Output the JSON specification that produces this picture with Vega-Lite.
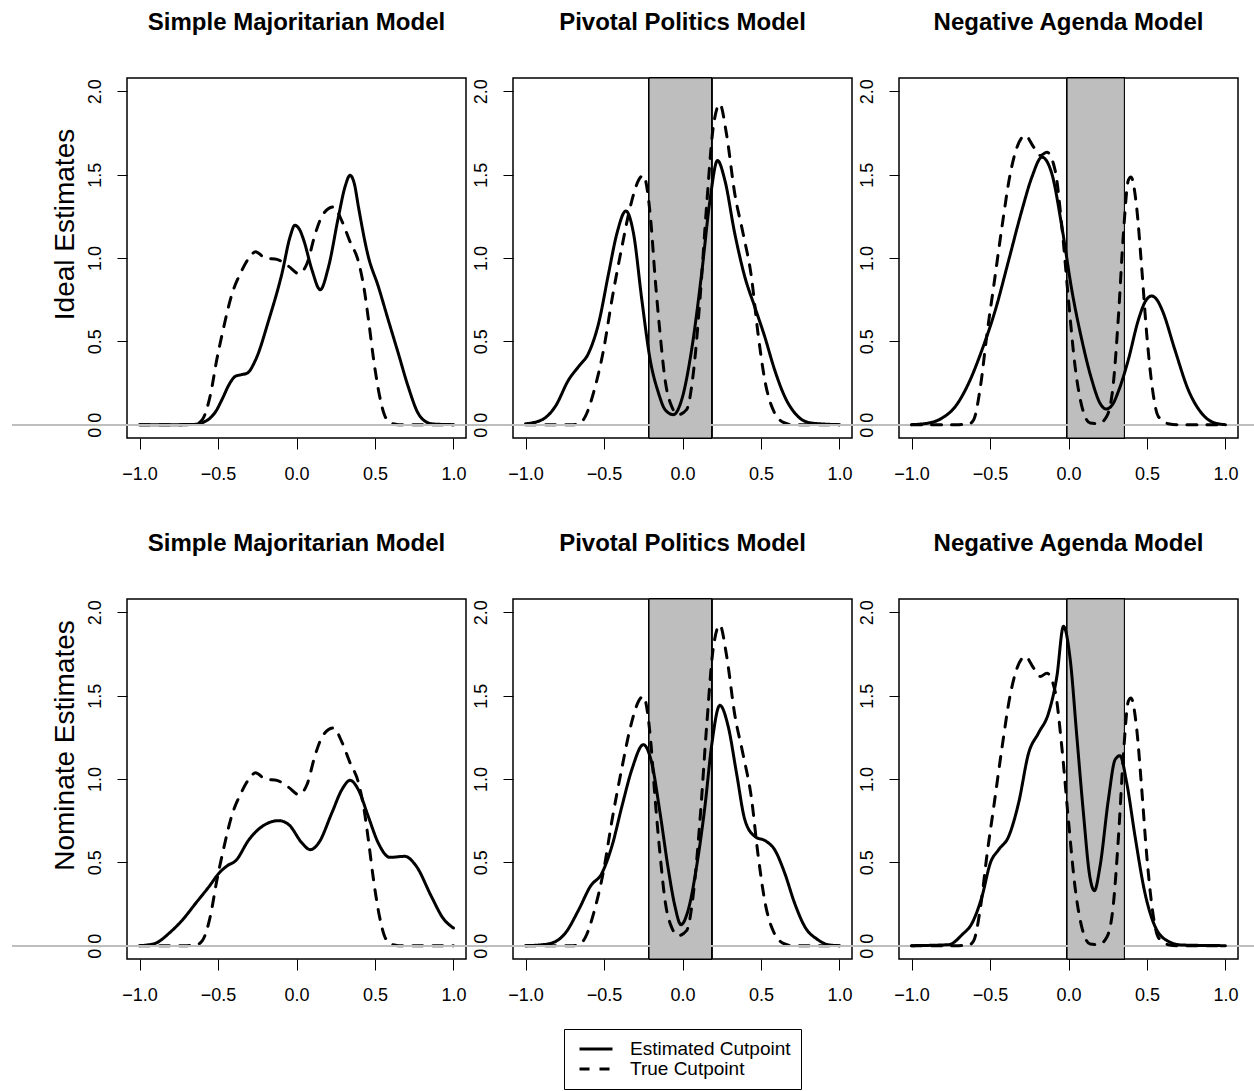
{
  "$schema": "https://vega.github.io/schema/vega-lite/v6.json",
  "padding": {"left": 10, "top": 9, "right": 0, "bottom": 0},
  "background": "white",
  "datasets": {
    "d": [
      {"c":"S","r":"I","s":"Estimated Cutpoint","x":-1,"y":0},{"c":"S","r":"I","s":"Estimated Cutpoint","x":-0.8,"y":0},{"c":"S","r":"I","s":"Estimated Cutpoint","x":-0.66,"y":0.001},{"c":"S","r":"I","s":"Estimated Cutpoint","x":-0.6,"y":0.012},{"c":"S","r":"I","s":"Estimated Cutpoint","x":-0.55,"y":0.04},{"c":"S","r":"I","s":"Estimated Cutpoint","x":-0.514,"y":0.08},{"c":"S","r":"I","s":"Estimated Cutpoint","x":-0.47,"y":0.16},{"c":"S","r":"I","s":"Estimated Cutpoint","x":-0.43,"y":0.24},{"c":"S","r":"I","s":"Estimated Cutpoint","x":-0.39,"y":0.29},{"c":"S","r":"I","s":"Estimated Cutpoint","x":-0.35,"y":0.3},{"c":"S","r":"I","s":"Estimated Cutpoint","x":-0.313,"y":0.31},{"c":"S","r":"I","s":"Estimated Cutpoint","x":-0.26,"y":0.39},{"c":"S","r":"I","s":"Estimated Cutpoint","x":-0.176,"y":0.63},{"c":"S","r":"I","s":"Estimated Cutpoint","x":-0.092,"y":0.91},{"c":"S","r":"I","s":"Estimated Cutpoint","x":-0.04,"y":1.13},{"c":"S","r":"I","s":"Estimated Cutpoint","x":-0.011,"y":1.196},{"c":"S","r":"I","s":"Estimated Cutpoint","x":0.02,"y":1.17},{"c":"S","r":"I","s":"Estimated Cutpoint","x":0.046,"y":1.107},{"c":"S","r":"I","s":"Estimated Cutpoint","x":0.098,"y":0.93},{"c":"S","r":"I","s":"Estimated Cutpoint","x":0.151,"y":0.81},{"c":"S","r":"I","s":"Estimated Cutpoint","x":0.204,"y":0.947},{"c":"S","r":"I","s":"Estimated Cutpoint","x":0.267,"y":1.246},{"c":"S","r":"I","s":"Estimated Cutpoint","x":0.31,"y":1.43},{"c":"S","r":"I","s":"Estimated Cutpoint","x":0.341,"y":1.496},{"c":"S","r":"I","s":"Estimated Cutpoint","x":0.37,"y":1.44},{"c":"S","r":"I","s":"Estimated Cutpoint","x":0.394,"y":1.31},{"c":"S","r":"I","s":"Estimated Cutpoint","x":0.457,"y":1.01},{"c":"S","r":"I","s":"Estimated Cutpoint","x":0.521,"y":0.83},{"c":"S","r":"I","s":"Estimated Cutpoint","x":0.584,"y":0.63},{"c":"S","r":"I","s":"Estimated Cutpoint","x":0.648,"y":0.43},{"c":"S","r":"I","s":"Estimated Cutpoint","x":0.711,"y":0.23},{"c":"S","r":"I","s":"Estimated Cutpoint","x":0.774,"y":0.07},{"c":"S","r":"I","s":"Estimated Cutpoint","x":0.82,"y":0.02},{"c":"S","r":"I","s":"Estimated Cutpoint","x":0.87,"y":0.004},{"c":"S","r":"I","s":"Estimated Cutpoint","x":1,"y":0},

      {"c":"S","r":"T","s":"True Cutpoint","x":-1,"y":0},{"c":"S","r":"T","s":"True Cutpoint","x":-0.7,"y":0},{"c":"S","r":"T","s":"True Cutpoint","x":-0.64,"y":0.004},{"c":"S","r":"T","s":"True Cutpoint","x":-0.6,"y":0.03},{"c":"S","r":"T","s":"True Cutpoint","x":-0.546,"y":0.19},{"c":"S","r":"T","s":"True Cutpoint","x":-0.51,"y":0.38},{"c":"S","r":"T","s":"True Cutpoint","x":-0.472,"y":0.55},{"c":"S","r":"T","s":"True Cutpoint","x":-0.409,"y":0.79},{"c":"S","r":"T","s":"True Cutpoint","x":-0.356,"y":0.91},{"c":"S","r":"T","s":"True Cutpoint","x":-0.303,"y":1.0},{"c":"S","r":"T","s":"True Cutpoint","x":-0.261,"y":1.037},{"c":"S","r":"T","s":"True Cutpoint","x":-0.2,"y":1.0},{"c":"S","r":"T","s":"True Cutpoint","x":-0.12,"y":0.99},{"c":"S","r":"T","s":"True Cutpoint","x":-0.05,"y":0.95},{"c":"S","r":"T","s":"True Cutpoint","x":0.014,"y":0.907},{"c":"S","r":"T","s":"True Cutpoint","x":0.067,"y":0.967},{"c":"S","r":"T","s":"True Cutpoint","x":0.12,"y":1.147},{"c":"S","r":"T","s":"True Cutpoint","x":0.172,"y":1.266},{"c":"S","r":"T","s":"True Cutpoint","x":0.236,"y":1.306},{"c":"S","r":"T","s":"True Cutpoint","x":0.29,"y":1.22},{"c":"S","r":"T","s":"True Cutpoint","x":0.34,"y":1.1},{"c":"S","r":"T","s":"True Cutpoint","x":0.394,"y":0.98},{"c":"S","r":"T","s":"True Cutpoint","x":0.43,"y":0.82},{"c":"S","r":"T","s":"True Cutpoint","x":0.46,"y":0.62},{"c":"S","r":"T","s":"True Cutpoint","x":0.49,"y":0.4},{"c":"S","r":"T","s":"True Cutpoint","x":0.53,"y":0.17},{"c":"S","r":"T","s":"True Cutpoint","x":0.56,"y":0.06},{"c":"S","r":"T","s":"True Cutpoint","x":0.6,"y":0.01},{"c":"S","r":"T","s":"True Cutpoint","x":0.65,"y":0},{"c":"S","r":"T","s":"True Cutpoint","x":1,"y":0},

      {"c":"S","r":"N","s":"Estimated Cutpoint","x":-1,"y":0},{"c":"S","r":"N","s":"Estimated Cutpoint","x":-0.95,"y":0.004},{"c":"S","r":"N","s":"Estimated Cutpoint","x":-0.894,"y":0.016},{"c":"S","r":"N","s":"Estimated Cutpoint","x":-0.81,"y":0.076},{"c":"S","r":"N","s":"Estimated Cutpoint","x":-0.725,"y":0.156},{"c":"S","r":"N","s":"Estimated Cutpoint","x":-0.641,"y":0.256},{"c":"S","r":"N","s":"Estimated Cutpoint","x":-0.556,"y":0.356},{"c":"S","r":"N","s":"Estimated Cutpoint","x":-0.493,"y":0.436},{"c":"S","r":"N","s":"Estimated Cutpoint","x":-0.44,"y":0.48},{"c":"S","r":"N","s":"Estimated Cutpoint","x":-0.387,"y":0.51},{"c":"S","r":"N","s":"Estimated Cutpoint","x":-0.303,"y":0.636},{"c":"S","r":"N","s":"Estimated Cutpoint","x":-0.218,"y":0.716},{"c":"S","r":"N","s":"Estimated Cutpoint","x":-0.113,"y":0.75},{"c":"S","r":"N","s":"Estimated Cutpoint","x":-0.049,"y":0.726},{"c":"S","r":"N","s":"Estimated Cutpoint","x":0.035,"y":0.616},{"c":"S","r":"N","s":"Estimated Cutpoint","x":0.088,"y":0.576},{"c":"S","r":"N","s":"Estimated Cutpoint","x":0.141,"y":0.616},{"c":"S","r":"N","s":"Estimated Cutpoint","x":0.225,"y":0.796},{"c":"S","r":"N","s":"Estimated Cutpoint","x":0.289,"y":0.936},{"c":"S","r":"N","s":"Estimated Cutpoint","x":0.341,"y":0.992},{"c":"S","r":"N","s":"Estimated Cutpoint","x":0.394,"y":0.936},{"c":"S","r":"N","s":"Estimated Cutpoint","x":0.457,"y":0.776},{"c":"S","r":"N","s":"Estimated Cutpoint","x":0.521,"y":0.616},{"c":"S","r":"N","s":"Estimated Cutpoint","x":0.595,"y":0.53},{"c":"S","r":"N","s":"Estimated Cutpoint","x":0.69,"y":0.536},{"c":"S","r":"N","s":"Estimated Cutpoint","x":0.764,"y":0.476},{"c":"S","r":"N","s":"Estimated Cutpoint","x":0.859,"y":0.296},{"c":"S","r":"N","s":"Estimated Cutpoint","x":0.933,"y":0.166},{"c":"S","r":"N","s":"Estimated Cutpoint","x":1,"y":0.106},

      {"c":"P","r":"I","s":"Estimated Cutpoint","x":-1,"y":0.005},{"c":"P","r":"I","s":"Estimated Cutpoint","x":-0.894,"y":0.03},{"c":"P","r":"I","s":"Estimated Cutpoint","x":-0.81,"y":0.11},{"c":"P","r":"I","s":"Estimated Cutpoint","x":-0.725,"y":0.27},{"c":"P","r":"I","s":"Estimated Cutpoint","x":-0.661,"y":0.35},{"c":"P","r":"I","s":"Estimated Cutpoint","x":-0.598,"y":0.43},{"c":"P","r":"I","s":"Estimated Cutpoint","x":-0.534,"y":0.61},{"c":"P","r":"I","s":"Estimated Cutpoint","x":-0.471,"y":0.907},{"c":"P","r":"I","s":"Estimated Cutpoint","x":-0.418,"y":1.147},{"c":"P","r":"I","s":"Estimated Cutpoint","x":-0.361,"y":1.282},{"c":"P","r":"I","s":"Estimated Cutpoint","x":-0.312,"y":1.147},{"c":"P","r":"I","s":"Estimated Cutpoint","x":-0.259,"y":0.748},{"c":"P","r":"I","s":"Estimated Cutpoint","x":-0.206,"y":0.389},{"c":"P","r":"I","s":"Estimated Cutpoint","x":-0.153,"y":0.19},{"c":"P","r":"I","s":"Estimated Cutpoint","x":-0.111,"y":0.09},{"c":"P","r":"I","s":"Estimated Cutpoint","x":-0.058,"y":0.06},{"c":"P","r":"I","s":"Estimated Cutpoint","x":-0.005,"y":0.15},{"c":"P","r":"I","s":"Estimated Cutpoint","x":0.058,"y":0.449},{"c":"P","r":"I","s":"Estimated Cutpoint","x":0.122,"y":0.907},{"c":"P","r":"I","s":"Estimated Cutpoint","x":0.175,"y":1.346},{"c":"P","r":"I","s":"Estimated Cutpoint","x":0.223,"y":1.585},{"c":"P","r":"I","s":"Estimated Cutpoint","x":0.27,"y":1.466},{"c":"P","r":"I","s":"Estimated Cutpoint","x":0.333,"y":1.147},{"c":"P","r":"I","s":"Estimated Cutpoint","x":0.397,"y":0.887},{"c":"P","r":"I","s":"Estimated Cutpoint","x":0.46,"y":0.708},{"c":"P","r":"I","s":"Estimated Cutpoint","x":0.524,"y":0.528},{"c":"P","r":"I","s":"Estimated Cutpoint","x":0.587,"y":0.329},{"c":"P","r":"I","s":"Estimated Cutpoint","x":0.651,"y":0.169},{"c":"P","r":"I","s":"Estimated Cutpoint","x":0.735,"y":0.05},{"c":"P","r":"I","s":"Estimated Cutpoint","x":0.82,"y":0.01},{"c":"P","r":"I","s":"Estimated Cutpoint","x":1,"y":0},

      {"c":"P","r":"T","s":"True Cutpoint","x":-1,"y":0},{"c":"P","r":"T","s":"True Cutpoint","x":-0.7,"y":0},{"c":"P","r":"T","s":"True Cutpoint","x":-0.66,"y":0.005},{"c":"P","r":"T","s":"True Cutpoint","x":-0.619,"y":0.05},{"c":"P","r":"T","s":"True Cutpoint","x":-0.556,"y":0.23},{"c":"P","r":"T","s":"True Cutpoint","x":-0.503,"y":0.449},{"c":"P","r":"T","s":"True Cutpoint","x":-0.45,"y":0.748},{"c":"P","r":"T","s":"True Cutpoint","x":-0.386,"y":1.067},{"c":"P","r":"T","s":"True Cutpoint","x":-0.333,"y":1.306},{"c":"P","r":"T","s":"True Cutpoint","x":-0.28,"y":1.466},{"c":"P","r":"T","s":"True Cutpoint","x":-0.249,"y":1.496},{"c":"P","r":"T","s":"True Cutpoint","x":-0.22,"y":1.38},{"c":"P","r":"T","s":"True Cutpoint","x":-0.2,"y":1.2},{"c":"P","r":"T","s":"True Cutpoint","x":-0.175,"y":0.887},{"c":"P","r":"T","s":"True Cutpoint","x":-0.143,"y":0.548},{"c":"P","r":"T","s":"True Cutpoint","x":-0.111,"y":0.269},{"c":"P","r":"T","s":"True Cutpoint","x":-0.069,"y":0.11},{"c":"P","r":"T","s":"True Cutpoint","x":-0.026,"y":0.06},{"c":"P","r":"T","s":"True Cutpoint","x":0.026,"y":0.09},{"c":"P","r":"T","s":"True Cutpoint","x":0.069,"y":0.309},{"c":"P","r":"T","s":"True Cutpoint","x":0.111,"y":0.748},{"c":"P","r":"T","s":"True Cutpoint","x":0.153,"y":1.306},{"c":"P","r":"T","s":"True Cutpoint","x":0.196,"y":1.785},{"c":"P","r":"T","s":"True Cutpoint","x":0.238,"y":1.924},{"c":"P","r":"T","s":"True Cutpoint","x":0.28,"y":1.745},{"c":"P","r":"T","s":"True Cutpoint","x":0.333,"y":1.386},{"c":"P","r":"T","s":"True Cutpoint","x":0.386,"y":1.147},{"c":"P","r":"T","s":"True Cutpoint","x":0.439,"y":0.887},{"c":"P","r":"T","s":"True Cutpoint","x":0.481,"y":0.548},{"c":"P","r":"T","s":"True Cutpoint","x":0.524,"y":0.269},{"c":"P","r":"T","s":"True Cutpoint","x":0.587,"y":0.07},{"c":"P","r":"T","s":"True Cutpoint","x":0.651,"y":0.01},{"c":"P","r":"T","s":"True Cutpoint","x":0.7,"y":0},{"c":"P","r":"T","s":"True Cutpoint","x":1,"y":0},

      {"c":"P","r":"N","s":"Estimated Cutpoint","x":-1,"y":0},{"c":"P","r":"N","s":"Estimated Cutpoint","x":-0.9,"y":0.005},{"c":"P","r":"N","s":"Estimated Cutpoint","x":-0.831,"y":0.016},{"c":"P","r":"N","s":"Estimated Cutpoint","x":-0.746,"y":0.076},{"c":"P","r":"N","s":"Estimated Cutpoint","x":-0.661,"y":0.216},{"c":"P","r":"N","s":"Estimated Cutpoint","x":-0.587,"y":0.356},{"c":"P","r":"N","s":"Estimated Cutpoint","x":-0.513,"y":0.436},{"c":"P","r":"N","s":"Estimated Cutpoint","x":-0.45,"y":0.596},{"c":"P","r":"N","s":"Estimated Cutpoint","x":-0.386,"y":0.836},{"c":"P","r":"N","s":"Estimated Cutpoint","x":-0.323,"y":1.056},{"c":"P","r":"N","s":"Estimated Cutpoint","x":-0.249,"y":1.206},{"c":"P","r":"N","s":"Estimated Cutpoint","x":-0.196,"y":1.096},{"c":"P","r":"N","s":"Estimated Cutpoint","x":-0.143,"y":0.796},{"c":"P","r":"N","s":"Estimated Cutpoint","x":-0.09,"y":0.456},{"c":"P","r":"N","s":"Estimated Cutpoint","x":-0.048,"y":0.236},{"c":"P","r":"N","s":"Estimated Cutpoint","x":-0.01,"y":0.126},{"c":"P","r":"N","s":"Estimated Cutpoint","x":0.037,"y":0.216},{"c":"P","r":"N","s":"Estimated Cutpoint","x":0.09,"y":0.476},{"c":"P","r":"N","s":"Estimated Cutpoint","x":0.143,"y":0.836},{"c":"P","r":"N","s":"Estimated Cutpoint","x":0.185,"y":1.196},{"c":"P","r":"N","s":"Estimated Cutpoint","x":0.238,"y":1.442},{"c":"P","r":"N","s":"Estimated Cutpoint","x":0.291,"y":1.316},{"c":"P","r":"N","s":"Estimated Cutpoint","x":0.344,"y":1.036},{"c":"P","r":"N","s":"Estimated Cutpoint","x":0.397,"y":0.756},{"c":"P","r":"N","s":"Estimated Cutpoint","x":0.46,"y":0.656},{"c":"P","r":"N","s":"Estimated Cutpoint","x":0.534,"y":0.626},{"c":"P","r":"N","s":"Estimated Cutpoint","x":0.587,"y":0.576},{"c":"P","r":"N","s":"Estimated Cutpoint","x":0.651,"y":0.436},{"c":"P","r":"N","s":"Estimated Cutpoint","x":0.714,"y":0.256},{"c":"P","r":"N","s":"Estimated Cutpoint","x":0.778,"y":0.116},{"c":"P","r":"N","s":"Estimated Cutpoint","x":0.862,"y":0.036},{"c":"P","r":"N","s":"Estimated Cutpoint","x":0.93,"y":0.005},{"c":"P","r":"N","s":"Estimated Cutpoint","x":1,"y":0},

      {"c":"G","r":"I","s":"Estimated Cutpoint","x":-1,"y":0},{"c":"G","r":"I","s":"Estimated Cutpoint","x":-0.89,"y":0.01},{"c":"G","r":"I","s":"Estimated Cutpoint","x":-0.805,"y":0.04},{"c":"G","r":"I","s":"Estimated Cutpoint","x":-0.72,"y":0.11},{"c":"G","r":"I","s":"Estimated Cutpoint","x":-0.636,"y":0.249},{"c":"G","r":"I","s":"Estimated Cutpoint","x":-0.551,"y":0.449},{"c":"G","r":"I","s":"Estimated Cutpoint","x":-0.466,"y":0.688},{"c":"G","r":"I","s":"Estimated Cutpoint","x":-0.381,"y":0.987},{"c":"G","r":"I","s":"Estimated Cutpoint","x":-0.297,"y":1.286},{"c":"G","r":"I","s":"Estimated Cutpoint","x":-0.233,"y":1.486},{"c":"G","r":"I","s":"Estimated Cutpoint","x":-0.169,"y":1.605},{"c":"G","r":"I","s":"Estimated Cutpoint","x":-0.106,"y":1.505},{"c":"G","r":"I","s":"Estimated Cutpoint","x":-0.042,"y":1.186},{"c":"G","r":"I","s":"Estimated Cutpoint","x":0.021,"y":0.808},{"c":"G","r":"I","s":"Estimated Cutpoint","x":0.085,"y":0.508},{"c":"G","r":"I","s":"Estimated Cutpoint","x":0.148,"y":0.27},{"c":"G","r":"I","s":"Estimated Cutpoint","x":0.2,"y":0.13},{"c":"G","r":"I","s":"Estimated Cutpoint","x":0.24,"y":0.094},{"c":"G","r":"I","s":"Estimated Cutpoint","x":0.28,"y":0.12},{"c":"G","r":"I","s":"Estimated Cutpoint","x":0.318,"y":0.2},{"c":"G","r":"I","s":"Estimated Cutpoint","x":0.381,"y":0.389},{"c":"G","r":"I","s":"Estimated Cutpoint","x":0.445,"y":0.628},{"c":"G","r":"I","s":"Estimated Cutpoint","x":0.49,"y":0.74},{"c":"G","r":"I","s":"Estimated Cutpoint","x":0.53,"y":0.772},{"c":"G","r":"I","s":"Estimated Cutpoint","x":0.57,"y":0.74},{"c":"G","r":"I","s":"Estimated Cutpoint","x":0.6,"y":0.68},{"c":"G","r":"I","s":"Estimated Cutpoint","x":0.678,"y":0.449},{"c":"G","r":"I","s":"Estimated Cutpoint","x":0.763,"y":0.209},{"c":"G","r":"I","s":"Estimated Cutpoint","x":0.847,"y":0.07},{"c":"G","r":"I","s":"Estimated Cutpoint","x":0.932,"y":0.01},{"c":"G","r":"I","s":"Estimated Cutpoint","x":1,"y":0},

      {"c":"G","r":"T","s":"True Cutpoint","x":-1,"y":0},{"c":"G","r":"T","s":"True Cutpoint","x":-0.7,"y":0},{"c":"G","r":"T","s":"True Cutpoint","x":-0.636,"y":0.004},{"c":"G","r":"T","s":"True Cutpoint","x":-0.604,"y":0.03},{"c":"G","r":"T","s":"True Cutpoint","x":-0.561,"y":0.229},{"c":"G","r":"T","s":"True Cutpoint","x":-0.519,"y":0.548},{"c":"G","r":"T","s":"True Cutpoint","x":-0.477,"y":0.828},{"c":"G","r":"T","s":"True Cutpoint","x":-0.424,"y":1.186},{"c":"G","r":"T","s":"True Cutpoint","x":-0.371,"y":1.506},{"c":"G","r":"T","s":"True Cutpoint","x":-0.328,"y":1.665},{"c":"G","r":"T","s":"True Cutpoint","x":-0.275,"y":1.735},{"c":"G","r":"T","s":"True Cutpoint","x":-0.222,"y":1.665},{"c":"G","r":"T","s":"True Cutpoint","x":-0.18,"y":1.615},{"c":"G","r":"T","s":"True Cutpoint","x":-0.138,"y":1.635},{"c":"G","r":"T","s":"True Cutpoint","x":-0.085,"y":1.525},{"c":"G","r":"T","s":"True Cutpoint","x":-0.042,"y":1.186},{"c":"G","r":"T","s":"True Cutpoint","x":0,"y":0.748},{"c":"G","r":"T","s":"True Cutpoint","x":0.042,"y":0.349},{"c":"G","r":"T","s":"True Cutpoint","x":0.085,"y":0.11},{"c":"G","r":"T","s":"True Cutpoint","x":0.138,"y":0.01},{"c":"G","r":"T","s":"True Cutpoint","x":0.191,"y":0.006},{"c":"G","r":"T","s":"True Cutpoint","x":0.244,"y":0.05},{"c":"G","r":"T","s":"True Cutpoint","x":0.286,"y":0.249},{"c":"G","r":"T","s":"True Cutpoint","x":0.318,"y":0.648},{"c":"G","r":"T","s":"True Cutpoint","x":0.35,"y":1.147},{"c":"G","r":"T","s":"True Cutpoint","x":0.381,"y":1.466},{"c":"G","r":"T","s":"True Cutpoint","x":0.398,"y":1.486},{"c":"G","r":"T","s":"True Cutpoint","x":0.434,"y":1.306},{"c":"G","r":"T","s":"True Cutpoint","x":0.466,"y":0.947},{"c":"G","r":"T","s":"True Cutpoint","x":0.498,"y":0.548},{"c":"G","r":"T","s":"True Cutpoint","x":0.53,"y":0.249},{"c":"G","r":"T","s":"True Cutpoint","x":0.572,"y":0.05},{"c":"G","r":"T","s":"True Cutpoint","x":0.636,"y":0.006},{"c":"G","r":"T","s":"True Cutpoint","x":0.7,"y":0},{"c":"G","r":"T","s":"True Cutpoint","x":1,"y":0},

      {"c":"G","r":"N","s":"Estimated Cutpoint","x":-1,"y":0},{"c":"G","r":"N","s":"Estimated Cutpoint","x":-0.763,"y":0.006},{"c":"G","r":"N","s":"Estimated Cutpoint","x":-0.678,"y":0.066},{"c":"G","r":"N","s":"Estimated Cutpoint","x":-0.614,"y":0.136},{"c":"G","r":"N","s":"Estimated Cutpoint","x":-0.551,"y":0.296},{"c":"G","r":"N","s":"Estimated Cutpoint","x":-0.498,"y":0.496},{"c":"G","r":"N","s":"Estimated Cutpoint","x":-0.445,"y":0.576},{"c":"G","r":"N","s":"Estimated Cutpoint","x":-0.381,"y":0.656},{"c":"G","r":"N","s":"Estimated Cutpoint","x":-0.318,"y":0.856},{"c":"G","r":"N","s":"Estimated Cutpoint","x":-0.254,"y":1.156},{"c":"G","r":"N","s":"Estimated Cutpoint","x":-0.191,"y":1.276},{"c":"G","r":"N","s":"Estimated Cutpoint","x":-0.127,"y":1.396},{"c":"G","r":"N","s":"Estimated Cutpoint","x":-0.074,"y":1.616},{"c":"G","r":"N","s":"Estimated Cutpoint","x":-0.032,"y":1.916},{"c":"G","r":"N","s":"Estimated Cutpoint","x":0.011,"y":1.716},{"c":"G","r":"N","s":"Estimated Cutpoint","x":0.053,"y":1.256},{"c":"G","r":"N","s":"Estimated Cutpoint","x":0.095,"y":0.796},{"c":"G","r":"N","s":"Estimated Cutpoint","x":0.135,"y":0.42},{"c":"G","r":"N","s":"Estimated Cutpoint","x":0.165,"y":0.33},{"c":"G","r":"N","s":"Estimated Cutpoint","x":0.201,"y":0.476},{"c":"G","r":"N","s":"Estimated Cutpoint","x":0.254,"y":0.876},{"c":"G","r":"N","s":"Estimated Cutpoint","x":0.297,"y":1.116},{"c":"G","r":"N","s":"Estimated Cutpoint","x":0.328,"y":1.14},{"c":"G","r":"N","s":"Estimated Cutpoint","x":0.371,"y":0.976},{"c":"G","r":"N","s":"Estimated Cutpoint","x":0.424,"y":0.656},{"c":"G","r":"N","s":"Estimated Cutpoint","x":0.487,"y":0.316},{"c":"G","r":"N","s":"Estimated Cutpoint","x":0.551,"y":0.116},{"c":"G","r":"N","s":"Estimated Cutpoint","x":0.636,"y":0.026},{"c":"G","r":"N","s":"Estimated Cutpoint","x":0.72,"y":0.004},{"c":"G","r":"N","s":"Estimated Cutpoint","x":1,"y":0}
    ]
  },
  "columns": 3,
  "bounds": "flush",
  "spacing": {"row": 161, "column": 47},
  "resolve": {"scale": {"strokeDash": "shared"}, "legend": {"strokeDash": "shared"}},
  "concat": [
    {
      "width": 339, "height": 360,
      "title": "Simple Majoritarian Model",
      "data": {"name": "d"},
      "transform": [{"filter": "datum.c == 'S' && (datum.r == 'I' || datum.r == 'T')"}],
      "layer": [
        {
          "mark": {"type": "line", "interpolate": "monotone", "strokeWidth": 3, "color": "black", "strokeCap": "round"},
          "encoding": {
            "x": {"field": "x", "type": "quantitative", "scale": {"domain": [-1.08, 1.08], "nice": false, "zero": false}, "axis": {"title": null, "values": [-1, -0.5, 0, 0.5, 1]}},
            "y": {"field": "y", "type": "quantitative", "scale": {"domain": [-0.08, 2.08], "nice": false, "zero": false}, "axis": {"title": "Ideal Estimates", "titleX": -54, "titleY": 146, "values": [0, 0.5, 1, 1.5, 2]}},
            "strokeDash": {"field": "s", "type": "nominal", "scale": {"domain": ["Estimated Cutpoint", "True Cutpoint"], "range": [[1, 0], [10, 10]]}, "legend": {"title": null}},
            "order": {"field": "x", "type": "quantitative"}
          }
        },
        {
          "mark": {"type": "rule", "color": "#bebebe", "strokeWidth": 1.5},
          "encoding": {
            "x": {"datum": -1.81, "type": "quantitative", "scale": {"domain": [-1.08, 1.08]}},
            "x2": {"datum": 1.08},
            "y": {"datum": 0, "type": "quantitative", "scale": {"domain": [-0.08, 2.08]}}
          }
        }
      ]
    },
    {
      "width": 339, "height": 360,
      "title": "Pivotal Politics Model",
      "data": {"name": "d"},
      "transform": [{"filter": "datum.c == 'P' && (datum.r == 'I' || datum.r == 'T')"}],
      "layer": [
        {
          "mark": {"type": "rect", "fill": "#bebebe", "stroke": "black", "strokeWidth": 1},
          "encoding": {
            "x": {"datum": -0.213, "type": "quantitative", "scale": {"domain": [-1.08, 1.08]}},
            "x2": {"datum": 0.185}
          }
        },
        {
          "mark": {"type": "line", "interpolate": "monotone", "strokeWidth": 3, "color": "black", "strokeCap": "round"},
          "encoding": {
            "x": {"field": "x", "type": "quantitative", "scale": {"domain": [-1.08, 1.08], "nice": false, "zero": false}, "axis": {"title": null, "values": [-1, -0.5, 0, 0.5, 1]}},
            "y": {"field": "y", "type": "quantitative", "scale": {"domain": [-0.08, 2.08], "nice": false, "zero": false}, "axis": {"title": null, "values": [0, 0.5, 1, 1.5, 2]}},
            "strokeDash": {"field": "s", "type": "nominal", "scale": {"domain": ["Estimated Cutpoint", "True Cutpoint"], "range": [[1, 0], [10, 10]]}, "legend": {"title": null}},
            "order": {"field": "x", "type": "quantitative"}
          }
        },
        {
          "mark": {"type": "rule", "color": "#bebebe", "strokeWidth": 1.5},
          "encoding": {
            "x": {"datum": -1.38, "type": "quantitative", "scale": {"domain": [-1.08, 1.08]}},
            "x2": {"datum": 1.08},
            "y": {"datum": 0, "type": "quantitative", "scale": {"domain": [-0.08, 2.08]}}
          }
        }
      ]
    },
    {
      "width": 339, "height": 360,
      "title": "Negative Agenda Model",
      "data": {"name": "d"},
      "transform": [{"filter": "datum.c == 'G' && (datum.r == 'I' || datum.r == 'T')"}],
      "layer": [
        {
          "mark": {"type": "rect", "fill": "#bebebe", "stroke": "black", "strokeWidth": 1},
          "encoding": {
            "x": {"datum": -0.009, "type": "quantitative", "scale": {"domain": [-1.08, 1.08]}},
            "x2": {"datum": 0.356}
          }
        },
        {
          "mark": {"type": "rule", "color": "#bebebe", "strokeWidth": 1.5},
          "encoding": {
            "x": {"datum": -1.38, "type": "quantitative", "scale": {"domain": [-1.08, 1.08]}},
            "x2": {"datum": 1.2},
            "y": {"datum": 0, "type": "quantitative", "scale": {"domain": [-0.08, 2.08]}}
          }
        },
        {
          "mark": {"type": "line", "interpolate": "monotone", "strokeWidth": 3, "color": "black", "strokeCap": "round"},
          "encoding": {
            "x": {"field": "x", "type": "quantitative", "scale": {"domain": [-1.08, 1.08], "nice": false, "zero": false}, "axis": {"title": null, "values": [-1, -0.5, 0, 0.5, 1]}},
            "y": {"field": "y", "type": "quantitative", "scale": {"domain": [-0.08, 2.08], "nice": false, "zero": false}, "axis": {"title": null, "values": [0, 0.5, 1, 1.5, 2]}},
            "strokeDash": {"field": "s", "type": "nominal", "scale": {"domain": ["Estimated Cutpoint", "True Cutpoint"], "range": [[1, 0], [10, 10]]}, "legend": {"title": null}},
            "order": {"field": "x", "type": "quantitative"}
          }
        }
      ]
    },
    {
      "width": 339, "height": 360,
      "title": "Simple Majoritarian Model",
      "data": {"name": "d"},
      "transform": [{"filter": "datum.c == 'S' && (datum.r == 'N' || datum.r == 'T')"}],
      "layer": [
        {
          "mark": {"type": "line", "interpolate": "monotone", "strokeWidth": 3, "color": "black", "strokeCap": "round"},
          "encoding": {
            "x": {"field": "x", "type": "quantitative", "scale": {"domain": [-1.08, 1.08], "nice": false, "zero": false}, "axis": {"title": null, "values": [-1, -0.5, 0, 0.5, 1]}},
            "y": {"field": "y", "type": "quantitative", "scale": {"domain": [-0.08, 2.08], "nice": false, "zero": false}, "axis": {"title": "Nominate Estimates", "titleX": -54, "titleY": 146, "values": [0, 0.5, 1, 1.5, 2]}},
            "strokeDash": {"field": "s", "type": "nominal", "scale": {"domain": ["Estimated Cutpoint", "True Cutpoint"], "range": [[1, 0], [10, 10]]}, "legend": {"title": null}},
            "order": {"field": "x", "type": "quantitative"}
          }
        },
        {
          "mark": {"type": "rule", "color": "#bebebe", "strokeWidth": 1.5},
          "encoding": {
            "x": {"datum": -1.81, "type": "quantitative", "scale": {"domain": [-1.08, 1.08]}},
            "x2": {"datum": 1.08},
            "y": {"datum": 0, "type": "quantitative", "scale": {"domain": [-0.08, 2.08]}}
          }
        }
      ]
    },
    {
      "width": 339, "height": 360,
      "title": "Pivotal Politics Model",
      "data": {"name": "d"},
      "transform": [{"filter": "datum.c == 'P' && (datum.r == 'N' || datum.r == 'T')"}],
      "layer": [
        {
          "mark": {"type": "rect", "fill": "#bebebe", "stroke": "black", "strokeWidth": 1},
          "encoding": {
            "x": {"datum": -0.213, "type": "quantitative", "scale": {"domain": [-1.08, 1.08]}},
            "x2": {"datum": 0.185}
          }
        },
        {
          "mark": {"type": "line", "interpolate": "monotone", "strokeWidth": 3, "color": "black", "strokeCap": "round"},
          "encoding": {
            "x": {"field": "x", "type": "quantitative", "scale": {"domain": [-1.08, 1.08], "nice": false, "zero": false}, "axis": {"title": null, "values": [-1, -0.5, 0, 0.5, 1]}},
            "y": {"field": "y", "type": "quantitative", "scale": {"domain": [-0.08, 2.08], "nice": false, "zero": false}, "axis": {"title": null, "values": [0, 0.5, 1, 1.5, 2]}},
            "strokeDash": {"field": "s", "type": "nominal", "scale": {"domain": ["Estimated Cutpoint", "True Cutpoint"], "range": [[1, 0], [10, 10]]}, "legend": {"title": null}},
            "order": {"field": "x", "type": "quantitative"}
          }
        },
        {
          "mark": {"type": "rule", "color": "#bebebe", "strokeWidth": 1.5},
          "encoding": {
            "x": {"datum": -1.38, "type": "quantitative", "scale": {"domain": [-1.08, 1.08]}},
            "x2": {"datum": 1.08},
            "y": {"datum": 0, "type": "quantitative", "scale": {"domain": [-0.08, 2.08]}}
          }
        }
      ]
    },
    {
      "width": 339, "height": 360,
      "title": "Negative Agenda Model",
      "data": {"name": "d"},
      "transform": [{"filter": "datum.c == 'G' && (datum.r == 'N' || datum.r == 'T')"}],
      "layer": [
        {
          "mark": {"type": "rect", "fill": "#bebebe", "stroke": "black", "strokeWidth": 1},
          "encoding": {
            "x": {"datum": -0.009, "type": "quantitative", "scale": {"domain": [-1.08, 1.08]}},
            "x2": {"datum": 0.356}
          }
        },
        {
          "mark": {"type": "rule", "color": "#bebebe", "strokeWidth": 1.5},
          "encoding": {
            "x": {"datum": -1.38, "type": "quantitative", "scale": {"domain": [-1.08, 1.08]}},
            "x2": {"datum": 1.2},
            "y": {"datum": 0, "type": "quantitative", "scale": {"domain": [-0.08, 2.08]}}
          }
        },
        {
          "mark": {"type": "line", "interpolate": "monotone", "strokeWidth": 3, "color": "black", "strokeCap": "round"},
          "encoding": {
            "x": {"field": "x", "type": "quantitative", "scale": {"domain": [-1.08, 1.08], "nice": false, "zero": false}, "axis": {"title": null, "values": [-1, -0.5, 0, 0.5, 1]}},
            "y": {"field": "y", "type": "quantitative", "scale": {"domain": [-0.08, 2.08], "nice": false, "zero": false}, "axis": {"title": null, "values": [0, 0.5, 1, 1.5, 2]}},
            "strokeDash": {"field": "s", "type": "nominal", "scale": {"domain": ["Estimated Cutpoint", "True Cutpoint"], "range": [[1, 0], [10, 10]]}, "legend": {"title": null}},
            "order": {"field": "x", "type": "quantitative"}
          }
        }
      ]
    }
  ],
  "config": {
    "font": "Liberation Sans",
    "view": {"stroke": "black", "strokeWidth": 1.5, "fill": null},
    "title": {"fontSize": 24, "fontWeight": "bold", "color": "black", "anchor": "middle", "offset": 43, "baseline": "alphabetic", "frame": "group"},
    "axis": {"grid": false, "domain": false, "tickColor": "black", "tickWidth": 1, "labelColor": "black", "labelFontSize": 18, "labelFont": "Liberation Sans", "labelOverlap": false, "labelFlush": false, "titleColor": "black", "titleFont": "Liberation Sans", "titleFontWeight": "normal", "format": ".1f"},
    "axisX": {"tickSize": 11, "labelPadding": 16},
    "axisY": {"tickSize": 10, "labelAngle": -90, "labelAlign": "center", "labelBaseline": "alphabetic", "labelPadding": 17, "titleFontSize": 28, "titleAngle": -90, "titleAlign": "center", "titleBaseline": "alphabetic"},
    "legend": {"orient": "none", "legendX": 437, "legendY": 951, "direction": "vertical", "strokeColor": "black", "padding": 10, "cornerRadius": 0, "fillColor": "white", "symbolType": "M-2,0H2", "symbolSize": 272, "symbolOffset": 12, "symbolStrokeWidth": 3, "symbolStrokeColor": "black", "labelFontSize": 19, "labelFont": "Liberation Sans", "labelColor": "black", "labelOffset": 24, "rowPadding": 0, "labelLimit": 400}
  }
}
